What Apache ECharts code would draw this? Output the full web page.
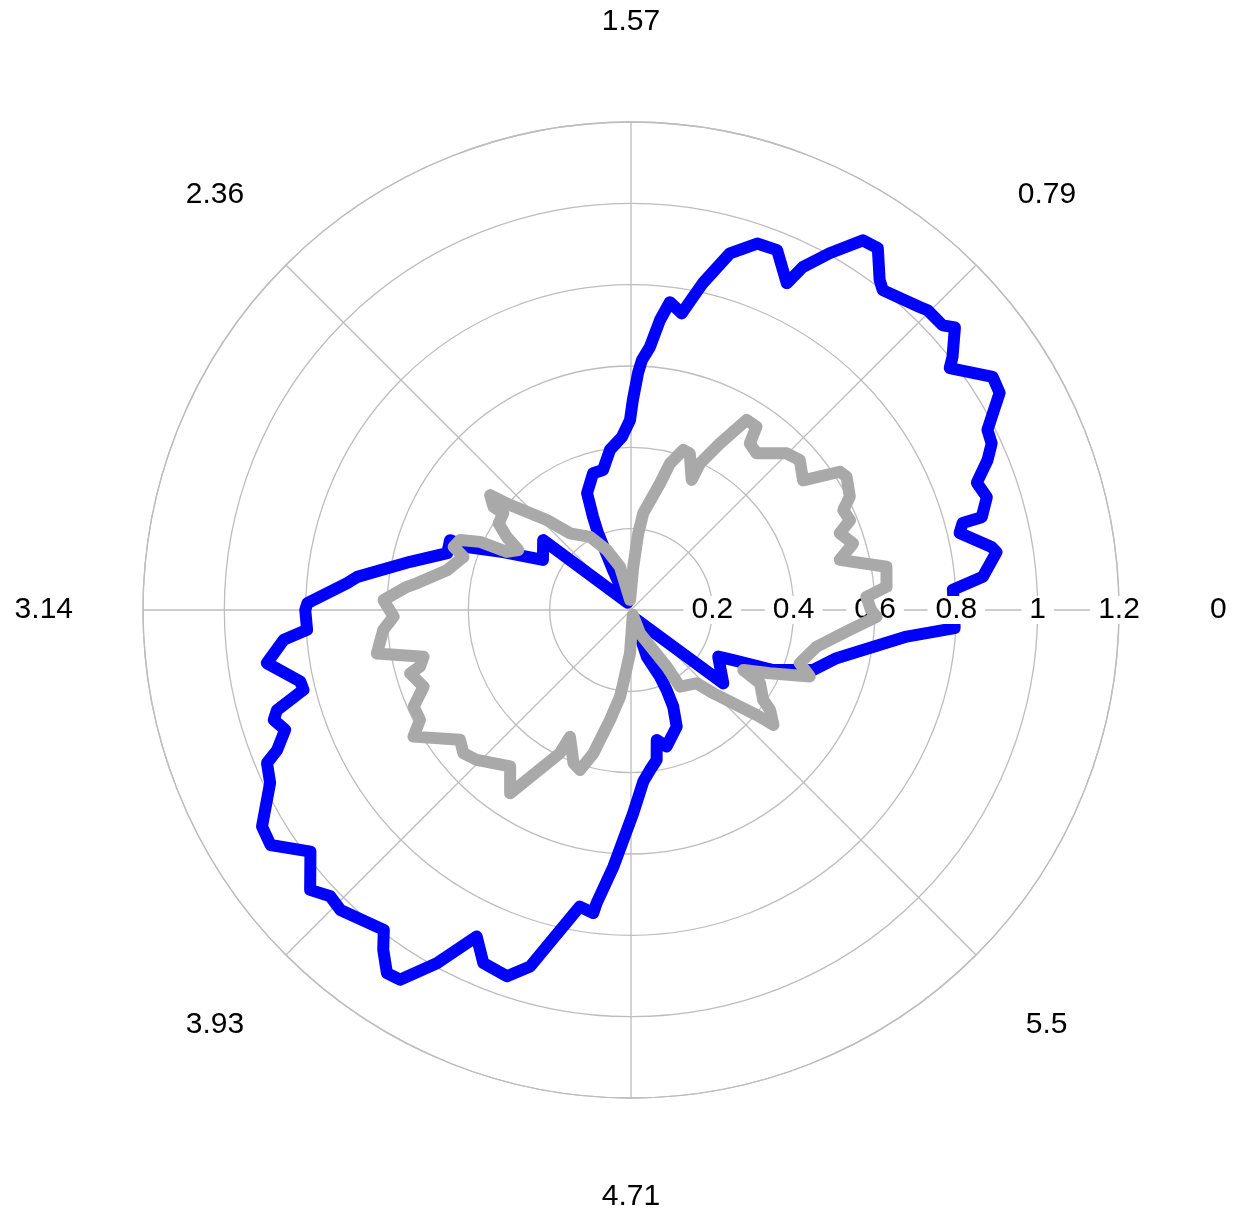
<!DOCTYPE html>
<html>
<head>
<meta charset="utf-8">
<title>Polar pattern</title>
<script src="https://cdn.jsdelivr.net/npm/echarts@6/dist/echarts.min.js"></script>
<style>
  html, body { margin: 0; padding: 0; background: #ffffff; }
  #chart { width: 1243px; height: 1211px; }
</style>
</head>
<body>
<div id="chart"></div>
<script>
// Angle axis ticks (degrees) and their labels shown in radians
const angleTicks = [0, 45, 90, 135, 180, 225, 270, 315];
const angleTickLabels = ['0', '0.79', '1.57', '2.36', '3.14', '3.93', '4.71', '5.5'];

// Radius axis ticks and labels
const radiusTicks = [0, 0.2, 0.4, 0.6, 0.8, 1, 1.2];
const radiusTickLabels = ['', '0.2', '0.4', '0.6', '0.8', '1', '1.2'];

// Blue trace: angle (degrees) and radius
const blueAngle = [
  0, 3.6, 5.4, 9.0, 9.9, 13.2, 14.7, 14.8, 17.6, 20.2, 22.8, 24.8, 26.8, 30.5, 32.8,
  37.2, 38.2, 41.1, 42.4, 45.3, 46.4, 51.8, 53.0, 55.7, 57.9, 60.9, 63.4, 64.5, 67.9,
  71.0, 74.5, 77.6, 78.9, 80.3, 82.8, 84.3, 85.9, 87.5, 88.3, 89.5, 90.3, 93.0, 97.5,
  101.3, 105.5, 110.6, 112.2, 113.2, 114.2, 115.0, 141.5, 150.4, 155.6, 159.0, 158.9,
  162.8, 167.7, 173.1, 174.6, 178.8, 180.0, 183.5, 184.9, 188.3, 192.2, 193.7, 195.8,
  197.1, 199.1, 201.6, 202.8, 205.6, 210.4, 213.1, 217.0, 221.1, 223.6, 225.9, 232.3,
  233.9, 236.1, 238.0, 241.2, 244.7, 247.3, 251.3, 254.2, 260.2, 262.9, 263.3, 266.1,
  270.6, 274.1, 276.8, 279.7, 281.2, 284.6, 291.4, 293.6, 294.0, 293.5, 288.8, 290.0,
  321.5, 331.9, 333.9, 337.1, 341.8, 346.8, 350.2, 354.5, 356.8, 360
];
const blueRadius = [
  0.795, 0.793, 0.869, 0.910, 0.900, 0.830, 0.843, 0.892, 0.918, 0.906, 0.951, 0.977, 0.982, 1.052, 1.058,
  0.984, 1.006, 1.057, 1.038, 1.037, 1.029, 1.001, 1.016, 1.077, 1.073, 1.004, 0.943, 0.890, 0.955,
  0.953, 0.910, 0.823, 0.781, 0.740, 0.763, 0.716, 0.648, 0.615, 0.583, 0.516, 0.467, 0.426, 0.397,
  0.351, 0.349, 0.307, 0.247, 0.206, 0.108, 0.020, 0.276, 0.249, 0.345, 0.432, 0.477,
  0.473, 0.556, 0.678, 0.701, 0.796, 0.801, 0.798, 0.857, 0.905, 0.832, 0.829, 0.905,
  0.919, 0.900, 0.936, 0.971, 0.984, 1.052, 1.058, 0.987, 1.047, 1.021, 1.027, 0.994,
  1.034, 1.076, 1.072, 0.991, 0.888, 0.941, 0.951, 0.911, 0.740, 0.751, 0.726, 0.632,
  0.500, 0.423, 0.396, 0.374, 0.326, 0.347, 0.308, 0.259, 0.215, 0.179, 0.122, 0.020,
  0.290, 0.243, 0.280, 0.379, 0.472, 0.519, 0.579, 0.681, 0.797, 0.795
];

// Grey trace: angle (degrees) and radius
const greyAngle = [
  0, 3.2, 5.2, 9.6, 13.5, 16.7, 20.2, 22.3, 25.2, 27.4, 31.7, 33.5, 37.0, 41.6, 45.2,
  51.3, 54.5, 55.6, 58.7, 61.9, 64.8, 65.0, 69.4, 71.9, 75.1, 77.1, 82.8, 84.6, 87.0,
  95.0, 104.3, 112.0, 119.2, 128.5, 133.1, 139.4, 140.8, 143.1, 142.9, 146.8, 149.5,
  152.0, 154.9, 155.7, 157.7, 160.4, 162.4, 167.8, 172.9, 174.1, 177.7, 181.6, 184.6,
  189.7, 192.7, 195.0, 196.0, 200.3, 204.0, 207.5, 210.2, 217.2, 220.5, 224.2, 232.3,
  236.6, 243.6, 244.3, 249.4, 252.3, 255.3, 259.2, 262.8, 264.0, 268.7, 290.0, 291.0,
  302.2, 302.6, 311.9, 314.7, 318.4, 320.1, 321.1, 324.3, 325.8, 330.4, 331.9, 335.5,
  339.6, 342.5, 348.8, 354.8, 358.4, 360
];
const greyRadius = [
  0.590, 0.580, 0.631, 0.637, 0.528, 0.570, 0.547, 0.582, 0.577, 0.606, 0.623, 0.616, 0.530, 0.555, 0.543,
  0.494, 0.503, 0.546, 0.547, 0.464, 0.398, 0.353, 0.411, 0.414, 0.373, 0.319, 0.240, 0.189, 0.107,
  0.025, 0.110, 0.159, 0.206, 0.241, 0.303, 0.402, 0.447, 0.423, 0.394, 0.389, 0.355,
  0.314, 0.337, 0.407, 0.454, 0.463, 0.432, 0.463, 0.531, 0.554, 0.609, 0.584, 0.611,
  0.634, 0.523, 0.537, 0.565, 0.544, 0.585, 0.585, 0.619, 0.528, 0.542, 0.529, 0.486,
  0.540, 0.393, 0.346, 0.402, 0.413, 0.364, 0.275, 0.215, 0.181, 0.106, 0.013, 0.061,
  0.165, 0.224, 0.242, 0.288, 0.358, 0.402, 0.450, 0.421, 0.393, 0.365, 0.313, 0.375,
  0.469, 0.435, 0.465, 0.540, 0.604, 0.590
];

const pairs = (radius, angle) => radius.map((r, i) => [r, angle[i]]);

const FONT = "'Liberation Sans', Arial, Helvetica, sans-serif";
const GRID = '#bdbdbd';
const CENTER = [631, 610];
const RADIUS = 488;

// Per-direction spacing so each angle label sits centred on its spoke
const labelText = { fontSize: 30, fontFamily: FONT, color: '#000000' };
const angleRich = {
  e:  Object.assign({ padding: [0, 0, 0, 32] }, labelText),
  ne: Object.assign({ padding: [0, 0, 13, 0] }, labelText),
  n:  Object.assign({ padding: [0, 0, 26, 0] }, labelText),
  nw: Object.assign({ padding: [0, 0, 13, 0] }, labelText),
  w:  Object.assign({ padding: [0, 11, 0, 0] }, labelText),
  sw: Object.assign({ padding: [13, 0, 0, 0] }, labelText),
  s:  Object.assign({ padding: [25, 0, 0, 0] }, labelText),
  se: Object.assign({ padding: [13, 0, 0, 8] }, labelText)
};
const angleStyleNames = ['e', 'ne', 'n', 'nw', 'w', 'sw', 's', 'se'];

const angleLabel = v => {
  const i = angleTicks.indexOf(Math.round(v));
  return i >= 0 ? '{' + angleStyleNames[i] + '|' + angleTickLabels[i] + '}' : '';
};
const radiusLabel = v => {
  const i = radiusTicks.findIndex(t => Math.abs(t - v) < 1e-6);
  return i >= 0 ? radiusTickLabels[i] : '';
};

const chart = echarts.init(document.getElementById('chart'), null, { renderer: 'canvas' });

chart.setOption({
  animation: false,
  backgroundColor: '#ffffff',
  polar: [
    { center: CENTER, radius: RADIUS },
    { center: CENTER, radius: RADIUS }
  ],
  angleAxis: [
    {
      polarIndex: 0,
      type: 'value',
      min: 0,
      max: 360,
      interval: 45,
      startAngle: 0,
      clockwise: false,
      z: 0,
      axisLine: { show: true, lineStyle: { color: GRID, width: 1.3 } },
      axisTick: { show: false },
      splitLine: { show: true, lineStyle: { color: GRID, width: 1.3 } },
      axisLabel: {
        show: true,
        margin: 59,
        fontSize: 30,
        fontFamily: FONT,
        color: '#000000',
        formatter: angleLabel,
        rich: angleRich
      }
    },
    {
      polarIndex: 1,
      type: 'value',
      min: 0,
      max: 360,
      interval: 45,
      startAngle: 0,
      clockwise: false,
      show: false
    }
  ],
  radiusAxis: [
    {
      polarIndex: 0,
      type: 'value',
      min: 0,
      max: 1.2,
      interval: 0.2,
      z: 0,
      axisLine: { show: false },
      axisTick: { show: false },
      axisLabel: { show: false },
      splitLine: { show: true, lineStyle: { color: GRID, width: 1.3 } }
    },
    {
      polarIndex: 1,
      type: 'value',
      min: 0,
      max: 1.2,
      interval: 0.2,
      z: 3,
      axisLine: { show: false },
      axisTick: { show: false },
      splitLine: { show: false },
      axisLabel: {
        show: true,
        showMinLabel: false,
        margin: 0,
        align: 'center',
        verticalAlign: 'middle',
        backgroundColor: '#ffffff',
        padding: [0, 8],
        lineHeight: 28,
        fontSize: 30,
        fontFamily: FONT,
        color: '#000000',
        formatter: radiusLabel
      }
    }
  ],
  series: [
    {
      name: 'blue',
      type: 'line',
      coordinateSystem: 'polar',
      polarIndex: 0,
      z: 2,
      showSymbol: false,
      smooth: false,
      silent: true,
      lineStyle: { color: '#0000ff', width: 12, cap: 'round', join: 'round' },
      data: pairs(blueRadius, blueAngle)
    },
    {
      name: 'grey',
      type: 'line',
      coordinateSystem: 'polar',
      polarIndex: 0,
      z: 4,
      showSymbol: false,
      smooth: false,
      silent: true,
      lineStyle: { color: '#a9a9a9', width: 12, cap: 'round', join: 'round' },
      data: pairs(greyRadius, greyAngle)
    }
  ]
});
</script>
</body>
</html>
